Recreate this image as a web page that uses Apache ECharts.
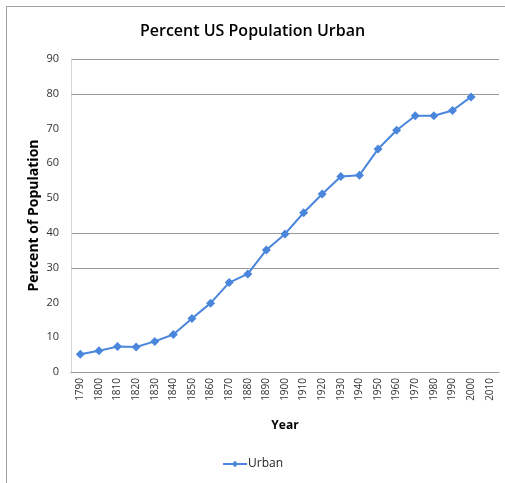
<!DOCTYPE html>
<html>
<head>
<meta charset="utf-8">
<script src="https://cdn.jsdelivr.net/npm/echarts@6/dist/echarts.min.js"></script>
<style>html,body{margin:0;padding:0;background:#fff}#c{width:505px;height:483px}</style>
</head>
<body>
<div id="c"></div>
<script>
const years = ['1790','1800','1810','1820','1830','1840','1850','1860','1870','1880','1890','1900','1910','1920','1930','1940','1950','1960','1970','1980','1990','2000','2010'];
const urban = [5.1,6.1,7.3,7.2,8.8,10.8,15.4,19.8,25.7,28.2,35.1,39.7,45.8,51.2,56.2,56.6,64.1,69.5,73.7,73.7,75.2,79.1,null];
const yTicks = [0,10,20,30,40,50,60,70,80,90];
const shownGridLines = [30,40,80,90];

const chart = echarts.init(document.getElementById('c'), null, {renderer:'canvas'});
const font = '"Open Sans", "Noto Sans", sans-serif';
chart.setOption({
  animation:false,
  backgroundColor:'#fff',
  title:{text:'Percent US Population Urban',left:'center',top:18,itemGap:0,
    textStyle:{fontFamily:font,fontSize:16,fontWeight:600,color:'#000'}},
  grid:{left:71,right:6,top:59,bottom:111},
  legend:{data:['Urban'],bottom:8,left:'center',itemWidth:24,itemHeight:8,itemGap:4,
    textStyle:{fontFamily:font,fontSize:12,color:'#222',padding:[0,0,0,-4]}},
  xAxis:{type:'category',data:years,boundaryGap:true,
    name:'Year',nameLocation:'middle',nameGap:48,
    nameTextStyle:{fontFamily:font,fontSize:12,fontWeight:'bold',color:'#000'},
    axisLine:{lineStyle:{color:'#999'}},axisTick:{show:false},
    axisLabel:{rotate:90,interval:0,margin:6,fontFamily:font,fontSize:10,color:'#333'}},
  yAxis:{type:'value',min:0,max:90,interval:10,
    name:'Percent of Population',nameLocation:'middle',nameGap:30,nameMoveOverlap:false,
    nameTextStyle:{fontFamily:font,fontSize:14,fontWeight:'bold',color:'#000'},
    axisLine:{show:true,lineStyle:{color:'#ccc',type:'dotted'}},axisTick:{show:false},
    axisLabel:{margin:12,fontFamily:font,fontSize:11,color:'#333',formatter:v=>yTicks.includes(v)?String(v):''},
    splitLine:{show:false}},
  series:[{name:'Urban',type:'line',data:urban,symbol:'diamond',symbolSize:9,z:3,
    lineStyle:{color:'#4A86DC',width:2},itemStyle:{color:'#4A86DC'},connectNulls:false}]
});
// gridlines placed via the library's own scales
const xa = chart.convertToPixel({xAxisIndex:0}, years[0]);
const xb = chart.convertToPixel({xAxisIndex:0}, years[1]);
const x0 = xa - (xb - xa)/2;
const x1 = x0 + (xb - xa) * years.length;
const lines = shownGridLines.map(v=>{
  const y = Math.round(chart.convertToPixel({yAxisIndex:0}, v)) + 0.5;
  return {type:'line',z:-1,silent:true,shape:{x1:x0,y1:y,x2:x1,y2:y},style:{stroke:'#999',lineWidth:1}};
});
lines.push({type:'polyline',silent:true,shape:{points:[[6.5,483],[6.5,6.5],[505,6.5]]},style:{stroke:'#a0a0a0',lineWidth:1,fill:null}});
chart.setOption({graphic:lines});
</script>
</body>
</html>
